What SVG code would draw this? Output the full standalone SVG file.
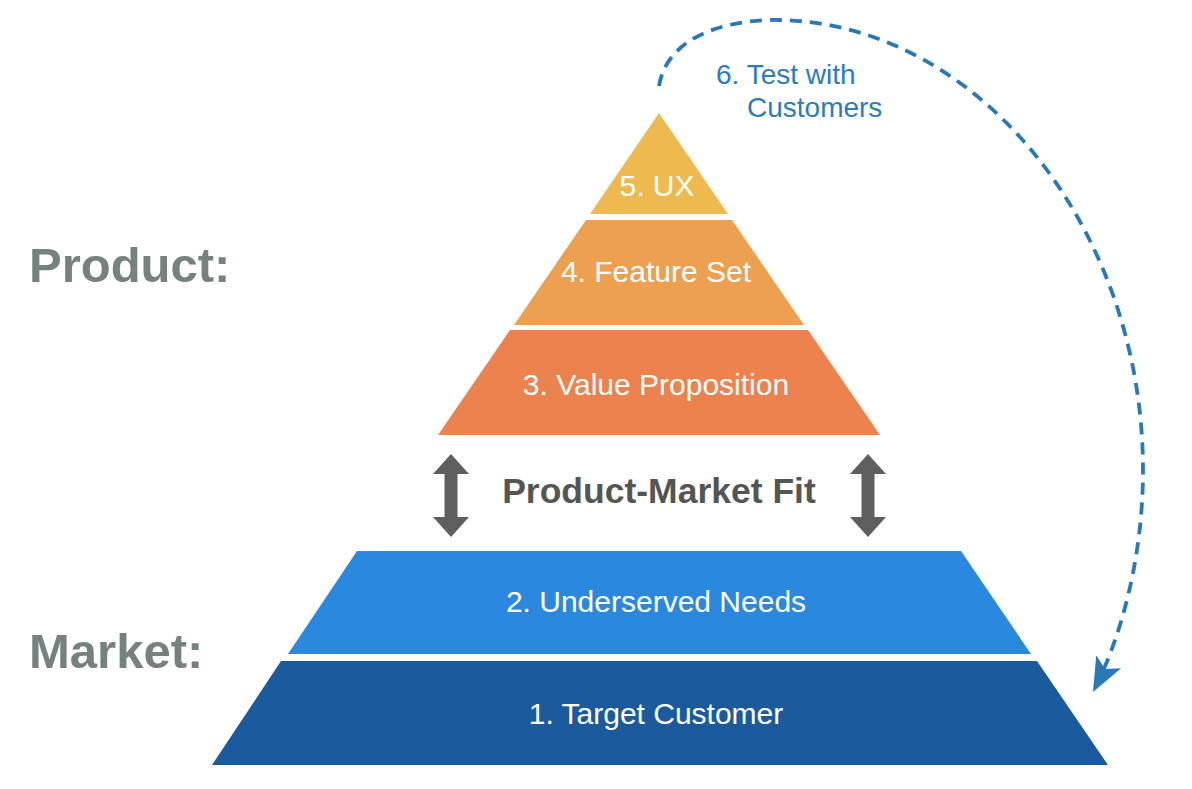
<svg xmlns="http://www.w3.org/2000/svg" width="1192" height="789" viewBox="0 0 1192 789">
<style>
.lyr{font-family:"Liberation Sans",Arial,sans-serif;font-size:30px;fill:#ffffff;text-anchor:middle}
.side{font-family:"Liberation Sans",Arial,sans-serif;font-size:49px;font-weight:bold;fill:#76827f}
.pmf{font-family:"Liberation Sans",Arial,sans-serif;font-size:35.5px;font-weight:bold;fill:#555555;text-anchor:middle}
.test{font-family:"Liberation Sans",Arial,sans-serif;font-size:28px;fill:#2b7bbe}
.dbl{fill:#5f5f5f}
</style>
<defs>
<path id="dblarrow" d="M0,0 L18,20 L6.5,20 L6.5,63 L18,63 L0,83 L-18,63 L-6.5,63 L-6.5,20 L-18,20 Z"/>
<marker id="ah" markerUnits="userSpaceOnUse" markerWidth="36" markerHeight="32" viewBox="0 0 36 32" refX="34" refY="16" orient="auto">
<path d="M0,2 L34,16 L0,30 L8,16 Z" fill="#2879ba"/>
</marker>
</defs>
<rect width="1192" height="789" fill="#ffffff"/>

<g id="label-product"><text class="side" x="29" y="282">Product:</text></g>
<g id="label-market"><text class="side" x="29" y="668">Market:</text></g>

<g id="layer5-ux">
<polygon points="659,113 728,214 590,214" fill="#eeba50"/>
<text class="lyr" x="657" y="196">5. UX</text>
</g>
<g id="layer4-feature-set">
<polygon points="586,220 732,220 804,325 514,325" fill="#eca050"/>
<text class="lyr" x="656" y="282">4. Feature Set</text>
</g>
<g id="layer3-value-proposition">
<polygon points="510,330 808,330 880,435 438,435" fill="#ec834f"/>
<text class="lyr" x="656" y="395">3. Value Proposition</text>
</g>

<g id="pmf">
<use href="#dblarrow" x="451" y="454" class="dbl"/>
<use href="#dblarrow" x="868" y="454" class="dbl"/>
<text class="pmf" x="659" y="503">Product-Market Fit</text>
</g>

<g id="layer2-underserved-needs">
<polygon points="357,551 961,551 1031,654 288,654" fill="#2a88df"/>
<text class="lyr" x="656" y="612">2. Underserved Needs</text>
</g>
<g id="layer1-target-customer">
<polygon points="281,661 1037,661 1108,765 212,765" fill="#1c5a9e"/>
<text class="lyr" x="656" y="724">1. Target Customer</text>
</g>

<g id="connectors">
<path d="M659,86 C668,32 735,19 780,20 C980,24 1143,230 1143,470 C1143,560 1120,640 1093,692" fill="none" stroke="#2879ba" stroke-width="3.8" stroke-dasharray="12 8" marker-end="url(#ah)"/>
</g>
<g id="label-test">
<text class="test" x="716" y="84">6. Test with</text>
<text class="test" x="747" y="117">Customers</text>
</g>
</svg>
